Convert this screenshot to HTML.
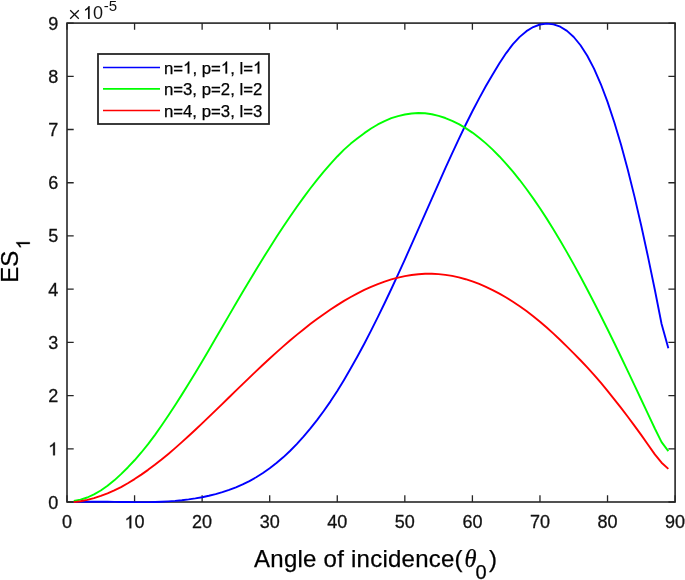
<!DOCTYPE html>
<html><head><meta charset="utf-8"><style>
html,body{margin:0;padding:0;background:#fff;width:685px;height:580px;overflow:hidden;position:relative;font-family:"Liberation Sans",sans-serif}
.h1{fill-opacity:0;stroke-opacity:0}
</style></head><body>
<svg width="685" height="580" viewBox="0 0 685 580" style="position:absolute;left:0;top:0;will-change:transform"><defs><path id="one" d="M568,0 L763,0 L763,1466 L646,1466 C614,1402 560,1335 484,1266 C409,1197 322,1140 223,1094 L223,926 C278,947 341,978 411,1018 C482,1059 539,1101 568,1144 Z"/></defs><path d="M67.00,502 V495.30 M67.00,23.1 V29.80 M134.57,502 V495.30 M134.57,23.1 V29.80 M202.13,502 V495.30 M202.13,23.1 V29.80 M269.70,502 V495.30 M269.70,23.1 V29.80 M337.27,502 V495.30 M337.27,23.1 V29.80 M404.83,502 V495.30 M404.83,23.1 V29.80 M472.40,502 V495.30 M472.40,23.1 V29.80 M539.97,502 V495.30 M539.97,23.1 V29.80 M607.53,502 V495.30 M607.53,23.1 V29.80 M675.10,502 V495.30 M675.10,23.1 V29.80 M67,502.00 H73.70 M675.1,502.00 H668.40 M67,448.79 H73.70 M675.1,448.79 H668.40 M67,395.58 H73.70 M675.1,395.58 H668.40 M67,342.37 H73.70 M675.1,342.37 H668.40 M67,289.16 H73.70 M675.1,289.16 H668.40 M67,235.94 H73.70 M675.1,235.94 H668.40 M67,182.73 H73.70 M675.1,182.73 H668.40 M67,129.52 H73.70 M675.1,129.52 H668.40 M67,76.31 H73.70 M675.1,76.31 H668.40 M67,23.10 H73.70 M675.1,23.10 H668.40" stroke="#262626" stroke-width="1.3" fill="none"/><rect x="67" y="23.1" width="608.10" height="478.90" fill="none" stroke="#262626" stroke-width="1.6"/><g fill="none" stroke-width="1.9" stroke-linejoin="round"><path d="M73.76,502.15 L80.51,501.91 L87.27,501.77 L94.03,501.72 L100.78,501.73 L107.54,501.79 L114.30,501.88 L121.05,501.98 L127.81,502.07 L134.57,502.13 L141.32,502.15 L148.08,502.10 L154.84,501.97 L161.59,501.74 L168.35,501.39 L175.11,500.90 L181.86,500.25 L188.62,499.42 L195.38,498.42 L202.13,497.20 L208.89,495.75 L215.65,494.05 L222.40,492.09 L229.16,489.83 L235.92,487.27 L242.67,484.36 L249.43,481.07 L256.19,477.28 L262.94,473.03 L269.70,468.32 L276.46,463.09 L283.21,457.33 L289.97,450.99 L296.73,444.06 L303.48,436.61 L310.24,428.65 L317.00,420.07 L323.75,411.00 L330.51,401.34 L337.27,391.02 L344.02,379.94 L350.78,368.35 L357.54,356.26 L364.29,343.70 L371.05,330.67 L377.81,317.18 L384.56,303.28 L391.32,289.02 L398.08,274.42 L404.83,259.53 L411.59,244.41 L418.35,229.20 L425.10,213.88 L431.86,198.54 L438.62,183.27 L445.37,168.16 L452.13,153.32 L458.89,138.83 L465.64,124.78 L472.40,111.24 L479.16,98.32 L485.91,86.07 L492.67,74.41 L499.43,63.29 L506.18,53.09 L512.94,44.19 L519.70,36.89 L526.45,31.18 L533.21,27.06 L539.97,24.50 L546.72,23.65 L553.48,24.35 L560.24,26.71 L566.99,30.88 L573.75,37.01 L580.51,45.25 L587.26,55.75 L594.02,68.63 L600.78,84.03 L607.53,101.91 L614.29,122.21 L621.05,144.84 L627.80,169.75 L634.56,196.86 L641.32,226.04 L648.07,257.09 L654.83,289.80 L661.59,324.00 L668.34,348.20" stroke="#0000ff"/><path d="M73.76,500.90 L80.51,499.66 L87.27,497.50 L94.03,494.43 L100.78,490.52 L107.54,485.81 L114.30,480.34 L121.05,474.16 L127.81,467.46 L134.57,460.27 L141.32,452.49 L148.08,444.18 L154.84,435.12 L161.59,425.51 L168.35,415.50 L175.11,405.20 L181.86,394.62 L188.62,383.76 L195.38,372.68 L202.13,361.39 L208.89,349.91 L215.65,338.35 L222.40,326.73 L229.16,315.12 L235.92,303.56 L242.67,292.08 L249.43,280.71 L256.19,269.47 L262.94,258.44 L269.70,247.65 L276.46,237.08 L283.21,226.76 L289.97,216.72 L296.73,206.98 L303.48,197.58 L310.24,188.54 L317.00,179.89 L323.75,171.63 L330.51,163.81 L337.27,156.46 L344.02,149.62 L350.78,143.59 L357.54,138.25 L364.29,133.15 L371.05,128.48 L377.81,124.45 L384.56,121.03 L391.32,118.22 L398.08,116.06 L404.83,114.53 L411.59,113.54 L418.35,112.97 L425.10,113.26 L431.86,114.23 L438.62,115.82 L445.37,118.01 L452.13,120.78 L458.89,124.14 L465.64,128.09 L472.40,132.60 L479.16,137.68 L485.91,143.39 L492.67,149.65 L499.43,156.46 L506.18,163.80 L512.94,171.67 L519.70,180.05 L526.45,188.95 L533.21,198.34 L539.97,208.24 L546.72,218.62 L553.48,229.46 L560.24,240.73 L566.99,252.37 L573.75,264.39 L580.51,276.76 L587.26,289.46 L594.02,302.47 L600.78,315.75 L607.53,329.28 L614.29,343.04 L621.05,356.99 L627.80,371.11 L634.56,385.37 L641.32,399.73 L648.07,414.09 L654.83,428.51 L661.59,442.10 L668.34,451.10" stroke="#00ff00"/><path d="M73.76,502.16 L80.51,501.30 L87.27,499.94 L94.03,498.13 L100.78,495.88 L107.54,493.34 L114.30,490.41 L121.05,487.07 L127.81,483.24 L134.57,479.08 L141.32,474.61 L148.08,469.85 L154.84,464.82 L161.59,459.52 L168.35,453.92 L175.11,448.12 L181.86,442.15 L188.62,436.01 L195.38,429.74 L202.13,423.37 L208.89,416.92 L215.65,410.40 L222.40,403.84 L229.16,397.25 L235.92,390.67 L242.67,384.10 L249.43,377.58 L256.19,371.12 L262.94,364.75 L269.70,358.49 L276.46,352.36 L283.21,346.38 L289.97,340.55 L296.73,334.88 L303.48,329.40 L310.24,324.12 L317.00,319.04 L323.75,314.17 L330.51,309.52 L337.27,305.10 L344.02,300.93 L350.78,297.01 L357.54,293.35 L364.29,289.97 L371.05,286.88 L377.81,284.08 L384.56,281.60 L391.32,279.43 L398.08,277.60 L404.83,276.11 L411.59,274.97 L418.35,274.19 L425.10,273.78 L431.86,273.74 L438.62,274.09 L445.37,274.82 L452.13,275.92 L458.89,277.39 L465.64,279.22 L472.40,281.41 L479.16,283.95 L485.91,286.83 L492.67,290.06 L499.43,293.62 L506.18,297.51 L512.94,301.72 L519.70,306.25 L526.45,311.10 L533.21,316.25 L539.97,321.70 L546.72,327.52 L553.48,333.64 L560.24,340.04 L566.99,346.67 L573.75,353.33 L580.51,360.26 L587.26,367.44 L594.02,374.87 L600.78,382.72 L607.53,390.88 L614.29,399.28 L621.05,407.92 L627.80,416.78 L634.56,425.87 L641.32,435.17 L648.07,444.68 L654.83,454.39 L661.59,462.70 L668.34,468.90" stroke="#ff0000"/></g><g font-family="Liberation Sans" font-size="18" fill="#111" stroke="#111" stroke-width="0.3"><text x="58.2" y="508.50" text-anchor="end">0</text><text x="58.2" y="455.29" text-anchor="end"><tspan class="h1">1</tspan></text><text x="58.2" y="402.08" text-anchor="end">2</text><text x="58.2" y="348.87" text-anchor="end">3</text><text x="58.2" y="295.66" text-anchor="end">4</text><text x="58.2" y="242.44" text-anchor="end">5</text><text x="58.2" y="189.23" text-anchor="end">6</text><text x="58.2" y="136.02" text-anchor="end">7</text><text x="58.2" y="82.81" text-anchor="end">8</text><text x="58.2" y="29.60" text-anchor="end">9</text><text x="67.00" y="528.3" text-anchor="middle">0</text><text x="134.57" y="528.3" text-anchor="middle"><tspan class="h1">1</tspan>0</text><text x="202.13" y="528.3" text-anchor="middle">20</text><text x="269.70" y="528.3" text-anchor="middle">30</text><text x="337.27" y="528.3" text-anchor="middle">40</text><text x="404.83" y="528.3" text-anchor="middle">50</text><text x="472.40" y="528.3" text-anchor="middle">60</text><text x="539.97" y="528.3" text-anchor="middle">70</text><text x="607.53" y="528.3" text-anchor="middle">80</text><text x="675.10" y="528.3" text-anchor="middle">90</text></g><g fill="#111" font-family="Liberation Sans"><path d="M70.2,10.3 L78.8,18.7 M78.8,10.3 L70.2,18.7" stroke="#111" stroke-width="1.3"/><text x="83" y="19" font-size="18"><tspan class="h1">1</tspan>0</text><text x="103.8" y="11" font-size="15">-5</text></g><rect x="98" y="54" width="171" height="70" fill="#fff" stroke="#262626" stroke-width="1.8"/><path d="M103,67.5 H160" stroke="#0000ff" stroke-width="1.6"/><text x="163.9" y="73.6" font-family="Liberation Sans" font-size="16.8" fill="#000" stroke="#000" stroke-width="0.25">n=<tspan class="h1">1</tspan>, p=<tspan class="h1">1</tspan>, l=<tspan class="h1">1</tspan></text><path d="M103,88.9 H160" stroke="#00ff00" stroke-width="1.6"/><text x="163.9" y="95.0" font-family="Liberation Sans" font-size="16.8" fill="#000" stroke="#000" stroke-width="0.25">n=3, p=2, l=2</text><path d="M103,110.5 H160" stroke="#ff0000" stroke-width="1.6"/><text x="163.9" y="116.6" font-family="Liberation Sans" font-size="16.8" fill="#000" stroke="#000" stroke-width="0.25">n=4, p=3, l=3</text><g font-family="Liberation Sans" fill="#000" stroke="#000" stroke-width="0.25"><text x="254.1" y="567" font-size="24" letter-spacing="0.24">Angle of incidence(</text><text x="464.4" y="567" font-family="Liberation Serif" font-style="italic" font-size="24.5">θ</text><text x="475.6" y="579" font-size="20">0</text><text x="488.9" y="567" font-size="24">)</text></g><g transform="translate(18,282.8) rotate(-90)"><text font-family="Liberation Sans" font-size="24" fill="#000" stroke="#000" stroke-width="0.25">ES<tspan font-size="19" dx="1.5" dy="11.8"><tspan class="h1">1</tspan></tspan></text><use href="#one" transform="translate(33.52,11.80) scale(0.00928,-0.00928)" fill="rgb(0, 0, 0)" stroke="rgb(0, 0, 0)" stroke-width="26.9"/></g><use href="#one" transform="translate(48.18,455.29) scale(0.00879,-0.00879)" fill="rgb(17, 17, 17)" stroke="rgb(17, 17, 17)" stroke-width="34.1"/><use href="#one" transform="translate(124.55,528.30) scale(0.00879,-0.00879)" fill="rgb(17, 17, 17)" stroke="rgb(17, 17, 17)" stroke-width="34.1"/><use href="#one" transform="translate(83.00,19.00) scale(0.00879,-0.00879)" fill="rgb(17, 17, 17)"/><use href="#one" transform="translate(183.04,73.60) scale(0.00820,-0.00820)" fill="rgb(0, 0, 0)" stroke="rgb(0, 0, 0)" stroke-width="30.5"/><use href="#one" transform="translate(220.85,73.60) scale(0.00820,-0.00820)" fill="rgb(0, 0, 0)" stroke="rgb(0, 0, 0)" stroke-width="30.5"/><use href="#one" transform="translate(253.06,73.60) scale(0.00820,-0.00820)" fill="rgb(0, 0, 0)" stroke="rgb(0, 0, 0)" stroke-width="30.5"/></svg>
</body></html>
